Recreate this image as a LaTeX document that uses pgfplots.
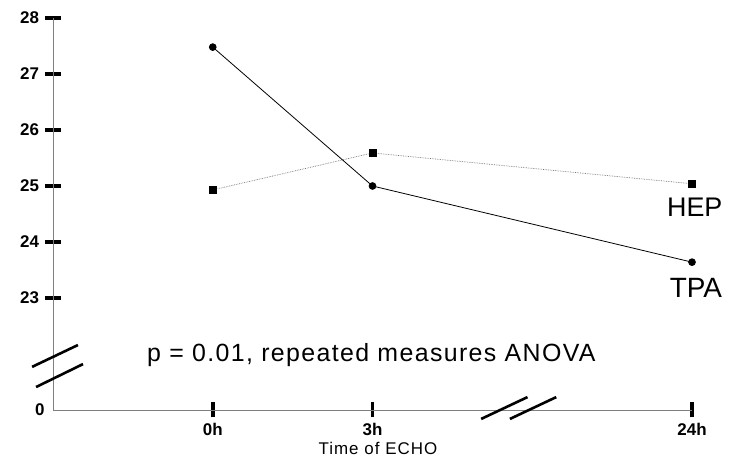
\documentclass[border=0pt]{standalone}
\usepackage{fontspec}
\setmainfont{Liberation Sans}
\newfontfamily\spaced[LetterSpace=5.5]{Liberation Sans}
\newfontfamily\wide[LetterSpace=6]{Liberation Sans}
\usepackage{pgfplots}
\pgfplotsset{compat=1.18}

\definecolor{axisgray}{gray}{0.5}
\definecolor{hepgray}{gray}{0.45}

\begin{document}
\begin{tikzpicture}[x=1bp,y=1bp]
\useasboundingbox (0,0) rectangle (730,459);
\begin{axis}[
  at={(53bp,49bp)}, anchor=south west,
  width=639bp, height=392bp, scale only axis,
  xmin=0, xmax=4, ymin=21, ymax=28,
  axis x line*=bottom, axis y line*=left,
  axis line style={-, draw=axisgray},
  clip=false,
  xtick={1,2,4}, xticklabels={0h,3h,24h},
  ytick={23,24,25,26,27,28}, yticklabels={23,24,25,26,27,28},
  extra y ticks={21}, extra y tick labels={0},
  extra y tick style={major tick length=0pt, yticklabel style={xshift=-2bp}},
  tick align=center, major tick length=15bp,
  tick style={draw=black, line width=3.6bp},
  ticklabel style={font=\fontsize{17}{19}\selectfont\bfseries},
  yticklabel style={xshift=-3bp},
  xticklabel style={yshift=-2bp},
  /pgf/number format/assume math mode=true,
]
% HEP
\addplot[draw=hepgray, densely dotted, line width=.7pt,
  mark=square*, mark size=3.6bp, mark options={solid, fill=black, draw=black}]
  coordinates {(1,24.93) (2,25.59) (4,25.04)};
% TPA
\addplot[draw=black, line width=.8pt,
  mark=*, mark size=3.4bp, mark options={solid, fill=black}]
  coordinates {(1,27.48) (2,25.00) (4,23.64)};

\node[anchor=base west, inner sep=0pt, font=\fontsize{27}{30}\selectfont]
  at (axis cs:3.843,24.45) {HEP};
\node[anchor=base west, inner sep=0pt, font=\fontsize{28}{30}\selectfont]
  at (axis cs:3.86,23.00) {TPA};
\node[anchor=base west, inner sep=0pt, font=\fontsize{25}{28}\spaced]
  at (axis cs:0.588,21.86) {p = 0.01, repeated measures ANOVA};
\node[anchor=base, inner sep=0pt, font=\fontsize{17}{19}\wide]
  at (axis cs:2.034,20.21) {Time of ECHO};

% axis breaks
\draw[line width=2.6bp] (axis cs:-0.131,21.77) -- (axis cs:0.156,22.16);
\draw[line width=2.6bp] (axis cs:-0.106,21.41) -- (axis cs:0.188,21.82);
\draw[line width=2.6bp] (axis cs:2.68,20.84) -- (axis cs:2.97,21.23);
\draw[line width=2.6bp] (axis cs:2.86,20.84) -- (axis cs:3.15,21.23);
\end{axis}
\end{tikzpicture}
\end{document}
